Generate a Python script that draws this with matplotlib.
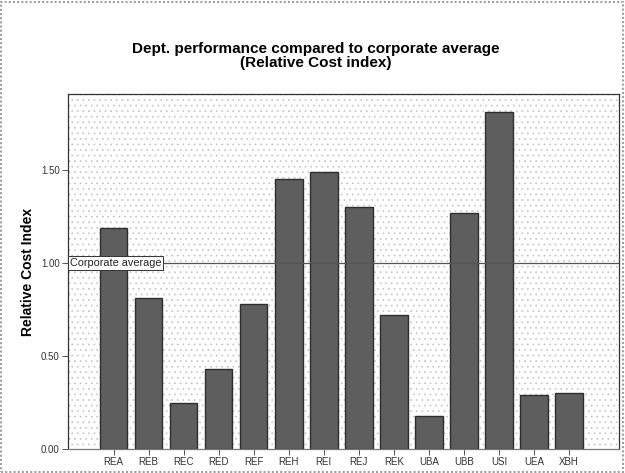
import matplotlib
matplotlib.use("Agg")
import matplotlib.pyplot as plt
from matplotlib.patches import Rectangle

departments = ["REA", "REB", "REC", "RED", "REF", "REH", "REI", "REJ",
               "REK", "UBA", "UBB", "USI", "UEA", "XBH"]
cost_index = [1.19, 0.81, 0.25, 0.43, 0.78, 1.45, 1.49, 1.30,
              0.72, 0.18, 1.27, 1.81, 0.29, 0.30]
corporate_average = 1.0
y_ticks = [0.0, 0.5, 1.0, 1.5]
y_tick_labels = ["0.00", "0.50", "1.00", "1.50"]

plt.rcParams["font.family"] = ["Liberation Sans", "DejaVu Sans"]
plt.rcParams["hatch.linewidth"] = 0.5

fig = plt.figure(figsize=(6.25, 4.73), dpi=100)
ax = fig.add_axes([68 / 625, 1 - 449 / 473, (619 - 68) / 625, (449 - 94) / 473])

# dotted plot background
ax.set_facecolor("white")
bg = Rectangle((0, 0), 1, 1, transform=ax.transAxes, facecolor="white",
               edgecolor="#c4c4c4", hatch="...", linewidth=0, zorder=0)
ax.add_patch(bg)

x = list(range(len(departments)))
ax.bar(x, cost_index, width=0.79, color="#5e5e5e", edgecolor="#2e2e2e",
       linewidth=1.0, zorder=2)

ax.axhline(corporate_average, color="#555555", linewidth=0.9, zorder=3)
ax.text(-1.25, corporate_average, "Corporate average", fontsize=7.8,
        va="center", ha="left", color="#222222", zorder=4,
        bbox=dict(boxstyle="square,pad=0.2", facecolor="white",
                  edgecolor="#333333", linewidth=0.7))

ax.set_xlim(-1.30, 14.43)
ax.set_ylim(0, 1.909)
ax.set_xticks(x)
ax.set_xticklabels(departments, fontsize=7, color="#333333")
ax.set_yticks(y_ticks)
ax.set_yticklabels(y_tick_labels, fontsize=7, color="#333333")
ax.tick_params(axis="both", direction="out", length=4, width=0.7,
               color="#555555", pad=2)

for side in ["top", "right", "left"]:
    ax.spines[side].set_color("#333333")
    ax.spines[side].set_linewidth(0.9)
ax.spines["bottom"].set_color("#777777")
ax.spines["bottom"].set_linewidth(0.9)

ax.set_ylabel("Relative Cost Index", fontsize=10, fontweight="bold",
              labelpad=4)

fig.text(0.506, 0.882, "Dept. performance compared to corporate average\n(Relative Cost index)",
         ha="center", va="center", fontsize=11, fontweight="bold",
         linespacing=1.0)

# outer frame of the chart
fig.patches.append(Rectangle((0.002, 0.002), 0.994, 0.994, transform=fig.transFigure,
                             facecolor="none", edgecolor="#a0a0a0",
                             linewidth=1.5, linestyle=(0, (1, 1))))

fig.savefig("out.png", dpi=100)
